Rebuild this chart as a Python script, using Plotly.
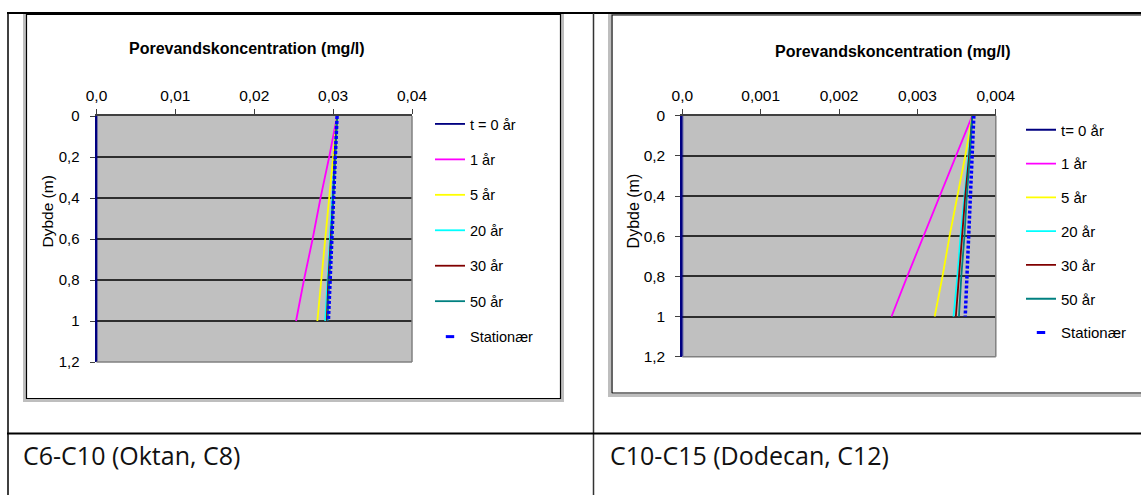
import plotly.graph_objects as go

W, H = 1141, 495

# ---------------- data ----------------
series_names_1 = ["t = 0 år", "1 år", "5 år", "20 år", "30 år", "50 år"]
series_names_2 = ["t= 0 år", "1 år", "5 år", "20 år", "30 år", "50 år"]
stationary_name = "Stationær"

depth_t0 = [0.0, 1.2]
depth = [0.0, 0.2, 0.4, 0.6, 0.8, 1.0]

# Chart 1: C6-C10 (Oktan, C8)   concentration in mg/l
c8_t0 = [0.0, 0.0]
c8_1 = [0.0305, 0.0295, 0.0284, 0.0274, 0.0263, 0.0253]
c8_5 = [0.0305, 0.0300, 0.0295, 0.0290, 0.0285, 0.0280]
c8_20 = [0.0305, 0.0302, 0.0299, 0.0296, 0.0293, 0.0290]
c8_30 = [0.0305, 0.0302, 0.0300, 0.0297, 0.0294, 0.0292]
c8_50 = [0.0305, 0.0303, 0.0300, 0.0298, 0.0295, 0.0293]
c8_stat = [0.0305, 0.0303, 0.0300, 0.0298, 0.0296, 0.0294]

# Chart 2: C10-C15 (Dodecan, C12)
c12_t0 = [0.0, 0.0]
c12_1 = [0.00370, 0.00349, 0.00329, 0.00308, 0.00287, 0.00267]
c12_5 = [0.00370, 0.00361, 0.00351, 0.00341, 0.00332, 0.00322]
c12_20 = [0.00370, 0.00365, 0.00360, 0.00355, 0.00351, 0.00346]
c12_30 = [0.00370, 0.00366, 0.00361, 0.00357, 0.00353, 0.00349]
c12_50 = [0.00370, 0.00367, 0.00363, 0.00360, 0.00356, 0.00353]
c12_stat = [0.00372, 0.00370, 0.00368, 0.00365, 0.00363, 0.00361]

x1_tickvals = [0.0, 0.01, 0.02, 0.03, 0.04]
x1_ticktext = ["0,0", "0,01", "0,02", "0,03", "0,04"]
x2_tickvals = [0.0, 0.001, 0.002, 0.003, 0.004]
x2_ticktext = ["0,0", "0,001", "0,002", "0,003", "0,004"]
y_tickvals = [0.0, 0.2, 0.4, 0.6, 0.8, 1.0, 1.2]
y_ticktext = ["0", "0,2", "0,4", "0,6", "0,8", "1", "1,2"]

chart_title = "Porevandskoncentration (mg/l)"
y_title = "Dybde (m)"
captions = ["C6-C10 (Oktan, C8)", "C10-C15 (Dodecan, C12)"]

colors = ["#000080", "#FF00FF", "#FFFF00", "#00FFFF", "#800000", "#008080"]
stat_color = "#0000FF"

# ---------------- helpers ----------------
def px(x):
    return x / W

def py(y):
    return 1 - y / H

fig = go.Figure()

def add_chart(names, t0, curves, stat, xref, yref, legend):
    ys = [depth_t0] + [depth] * len(curves)
    xs = [t0] + curves
    for i, (nm, xv, yv) in enumerate(zip(names, xs, ys)):
        fig.add_trace(go.Scatter(
            x=xv, y=yv, mode="lines", name=nm,
            line=dict(color=colors[i], width=1.8),
            xaxis=xref, yaxis=yref, legend=legend,
            legendgroup=f"{legend}_{i}",
        ))
    fig.add_trace(go.Scatter(
        x=stat, y=depth, mode="lines", name=stationary_name,
        line=dict(color=stat_color, width=3.5, dash="3px,2px"),
        xaxis=xref, yaxis=yref, showlegend=False,
    ))
    # legend proxy for the marker-style "Stationær" entry
    fig.add_trace(go.Scatter(
        x=[None], y=[None], mode="markers", name=stationary_name,
        marker=dict(symbol="line-ew", size=6, color=stat_color,
                    line=dict(color=stat_color, width=3)),
        xaxis=xref, yaxis=yref, legend=legend,
        legendgroup=f"{legend}_stat",
    ))

add_chart(series_names_1, c8_t0, [c8_1, c8_5, c8_20, c8_30, c8_50], c8_stat,
          "x", "y", "legend")
add_chart(series_names_2, c12_t0, [c12_1, c12_5, c12_20, c12_30, c12_50], c12_stat,
          "x2", "y2", "legend2")

AX_FONT = "Liberation Sans, Arial, sans-serif"

def xaxis_cfg(dom, rng, tv, tt, fs):
    return dict(domain=dom, range=rng, side="top", tickvals=tv, ticktext=tt,
                showgrid=False, zeroline=False, showline=True, linecolor="#404040",
                linewidth=2, ticks="outside", ticklen=5, tickcolor="#404040",
                tickwidth=1, tickfont=dict(family=AX_FONT, size=fs, color="#000"),
                ticklabelstandoff=2, fixedrange=True, automargin=False)

def yaxis_cfg(dom, anchor, fs):
    return dict(domain=dom, range=[1.2, 0], anchor=anchor, tickvals=y_tickvals,
                ticktext=y_ticktext, showgrid=True, gridcolor="#2e2e2e", gridwidth=1.5,
                zeroline=False, showline=True, linecolor="#000080", linewidth=2,
                ticks="outside", ticklen=5, tickcolor="#404040", tickwidth=1,
                tickfont=dict(family=AX_FONT, size=fs, color="#000"),
                ticklabelstandoff=7, fixedrange=True, automargin=False)

# plot area pixel boxes
p1 = (96.5, 412.0, 116.0, 362.0)
p2 = (682.3, 995.8, 115.7, 356.7)

layout = dict(
    width=W, height=H, margin=dict(l=0, r=0, t=0, b=0, pad=0, autoexpand=False),
    paper_bgcolor="#FFFFFF", plot_bgcolor="#C0C0C0",
    xaxis=xaxis_cfg([px(p1[0]), px(p1[1])], [0, 0.04], x1_tickvals, x1_ticktext, 15.5),
    yaxis=yaxis_cfg([py(p1[3]), py(p1[2])], "x", 15),
    xaxis2=xaxis_cfg([px(p2[0]), px(p2[1])], [0, 0.004], x2_tickvals, x2_ticktext, 15.5),
    yaxis2=yaxis_cfg([py(p2[3]), py(p2[2])], "x2", 15.5),
    legend=dict(x=px(430), y=py(108), xanchor="left", yanchor="top",
                font=dict(family=AX_FONT, size=14.5, color="#000"),
                traceorder="grouped", tracegroupgap=13.6, bgcolor="rgba(0,0,0,0)",
                itemwidth=30),
    legend2=dict(x=px(1021), y=py(113.5), xanchor="left", yanchor="top",
                 font=dict(family=AX_FONT, size=15, color="#000"),
                 traceorder="grouped", tracegroupgap=11.3, bgcolor="rgba(0,0,0,0)",
                 itemwidth=30),
    showlegend=True,
)
fig.update_layout(**layout)

shapes = []
def line(x0, y0, x1, y1, color, w):
    shapes.append(dict(type="line", xref="paper", yref="paper",
                       x0=px(x0), y0=py(y0), x1=px(x1), y1=py(y1),
                       line=dict(color=color, width=w)))

def rect(x0, y0, x1, y1, color, w):
    shapes.append(dict(type="rect", xref="paper", yref="paper",
                       x0=px(x0), y0=py(y0), x1=px(x1), y1=py(y1),
                       line=dict(color=color, width=w), fillcolor="rgba(0,0,0,0)"))

# chart image frames (gray outer, black inner)
rect(24.5, 13.5, 562.5, 400.5, "#BEBEBE", 3)
rect(26.5, 14.5, 560.5, 398.5, "#000000", 1.2)
rect(609.5, 13.5, 1150, 395.5, "#BEBEBE", 3)
rect(612, 15, 1150, 393, "#000000", 1.2)

# table lines
line(7, 13, 1141, 13, "#000000", 2)
line(8, 13, 8, 495, "#000000", 1.5)
line(593.5, 13, 593.5, 495, "#333333", 1.5)
line(7, 433.5, 1141, 433.5, "#000000", 2)

# plot area right / bottom border (gray)
for xa, ya in (("x", "y"), ("x2", "y2")):
    shapes.append(dict(type="line", xref=f"{xa} domain", yref=f"{ya} domain",
                       x0=1, x1=1, y0=0, y1=1, line=dict(color="#808080", width=1.5)))
    shapes.append(dict(type="line", xref=f"{xa} domain", yref=f"{ya} domain",
                       x0=0, x1=1, y0=0, y1=0, line=dict(color="#808080", width=1.5)))

fig.update_layout(shapes=shapes)

ann = []
ann.append(dict(text=f"<b>{chart_title}</b>", x=px(246.5), y=py(48.5), xref="paper",
                yref="paper", showarrow=False, xanchor="center", yanchor="middle",
                font=dict(family=AX_FONT, size=16, color="#000")))
ann.append(dict(text=f"<b>{chart_title}</b>", x=px(893), y=py(51), xref="paper",
                yref="paper", showarrow=False, xanchor="center", yanchor="middle",
                font=dict(family=AX_FONT, size=16, color="#000")))
ann.append(dict(text=y_title, x=px(46.5), y=py(212), xref="paper", yref="paper",
                showarrow=False, textangle=-90, xanchor="center", yanchor="middle",
                font=dict(family=AX_FONT, size=15.5, color="#000")))
ann.append(dict(text=y_title, x=px(633.7), y=py(210.7), xref="paper", yref="paper",
                showarrow=False, textangle=-90, xanchor="center", yanchor="middle",
                font=dict(family=AX_FONT, size=16, color="#000")))
ann.append(dict(text=captions[0], x=px(21), y=py(455), xref="paper", yref="paper",
                showarrow=False, xanchor="left", yanchor="middle",
                font=dict(family="Segoe UI, Open Sans, sans-serif", size=25, color="#111")))
ann.append(dict(text=captions[1], x=px(607.5), y=py(455), xref="paper", yref="paper",
                showarrow=False, xanchor="left", yanchor="middle",
                font=dict(family="Segoe UI, Open Sans, sans-serif", size=25, color="#111")))
fig.update_layout(annotations=ann)

fig.write_html("out.html")
